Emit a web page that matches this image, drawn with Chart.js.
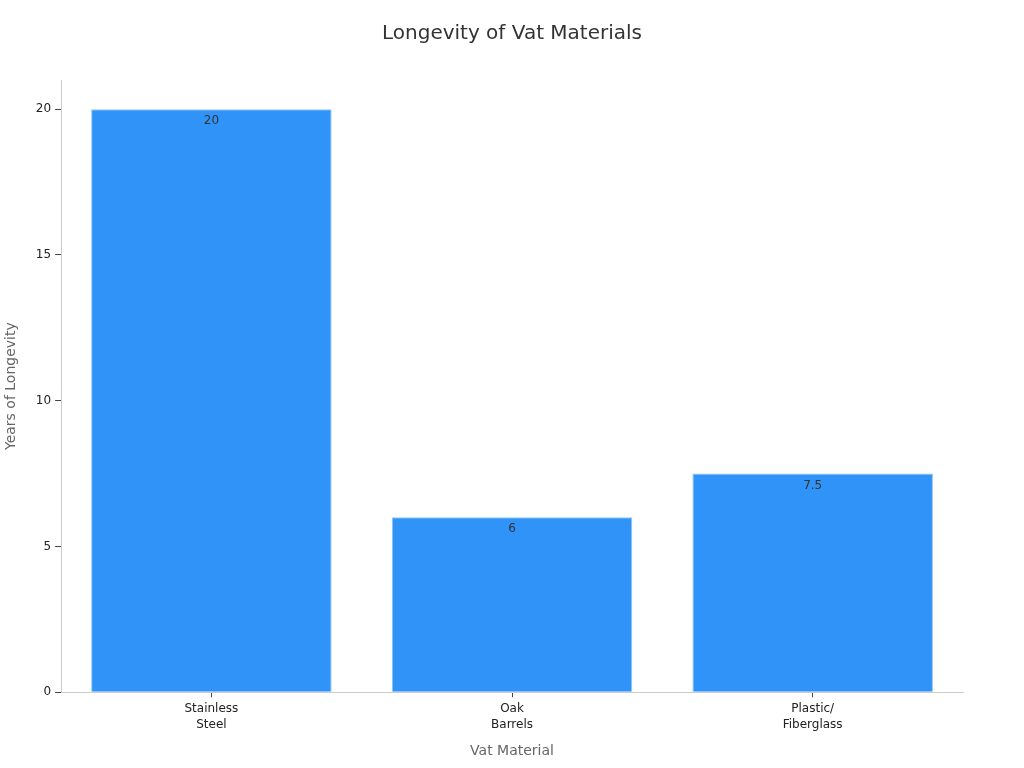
<!DOCTYPE html>
<html>
<head>
<meta charset="utf-8">
<script src="https://cdn.jsdelivr.net/npm/chart.js@4.4.0/dist/chart.umd.min.js"></script>
<style>
  html, body { margin: 0; padding: 0; background: #fff; }
  #wrap { width: 1024px; height: 768px; }
</style>
</head>
<body>
<div id="wrap"><canvas id="vatChart" width="1024" height="768"></canvas></div>
<script>
const materials = [["Stainless", "Steel"], ["Oak", "Barrels"], ["Plastic/", "Fiberglass"]];
const longevityYears = [20, 6, 7.5];
const yTicks = [0, 5, 10, 15, 20];
const chartTitle = "Longevity of Vat Materials";

// draws the value just inside the top of each bar, and the title centred on the page
const barValueLabels = {
  id: "barValueLabels",
  afterDatasetsDraw(chart) {
    const ctx = chart.ctx;
    const meta = chart.getDatasetMeta(0);
    ctx.save();
    ctx.font = "12px 'DejaVu Sans'";
    ctx.fillStyle = "#333";
    ctx.textAlign = "center";
    ctx.textBaseline = "top";
    meta.data.forEach((bar, i) => {
      ctx.fillText(String(longevityYears[i]), bar.x, bar.y + 6);
    });
    ctx.font = "20px 'DejaVu Sans'";
    ctx.textBaseline = "middle";
    ctx.fillText(chartTitle, chart.width / 2, 34);
    ctx.restore();
  },
};

Chart.defaults.font.family = "'DejaVu Sans', sans-serif";

new Chart(document.getElementById("vatChart").getContext("2d"), {
  type: "bar",
  data: {
    labels: materials,
    datasets: [
      {
        label: "Years of Longevity",
        data: longevityYears,
        backgroundColor: "#2f93f8",
        borderColor: "#8cc4fb",
        borderWidth: 1,
        barPercentage: 0.8,
        categoryPercentage: 1.0,
      },
    ],
  },
  options: {
    responsive: false,
    animation: false,
    layout: { padding: { left: 3, right: 61, top: 10, bottom: 4 } },
    plugins: {
      legend: { display: false },
      tooltip: { enabled: false },
      // space only; the visible title is drawn by barValueLabels
      title: {
        display: true,
        text: chartTitle,
        color: "rgba(0,0,0,0)",
        font: { size: 20, weight: "normal" },
        padding: { top: 13, bottom: 33 },
      },
    },
    scales: {
      x: {
        grid: { display: true, offset: false, drawOnChartArea: false, drawTicks: true, tickLength: 5, color: "#ccc", tickColor: "#444" },
        border: { color: "#ccc" },
        ticks: { color: "#222", font: { size: 12, lineHeight: 1.33 }, padding: 4 },
        title: { display: true, text: "Vat Material", color: "#666", font: { size: 14 }, padding: { top: 6, bottom: 4 } },
      },
      y: {
        min: 0,
        max: 21,
        afterBuildTicks(axis) {
          axis.ticks = yTicks.map((v) => ({ value: v }));
        },
        grid: { display: true, drawOnChartArea: false, drawTicks: true, tickLength: 6, color: "#ccc", tickColor: "#444" },
        border: { color: "#ccc" },
        ticks: { color: "#222", font: { size: 12 }, padding: 4 },
        title: { display: true, text: "Years of Longevity", color: "#666", font: { size: 14 }, padding: { top: 0, bottom: 12 } },
      },
    },
  },
  plugins: [barValueLabels],
});
</script>
</body>
</html>
